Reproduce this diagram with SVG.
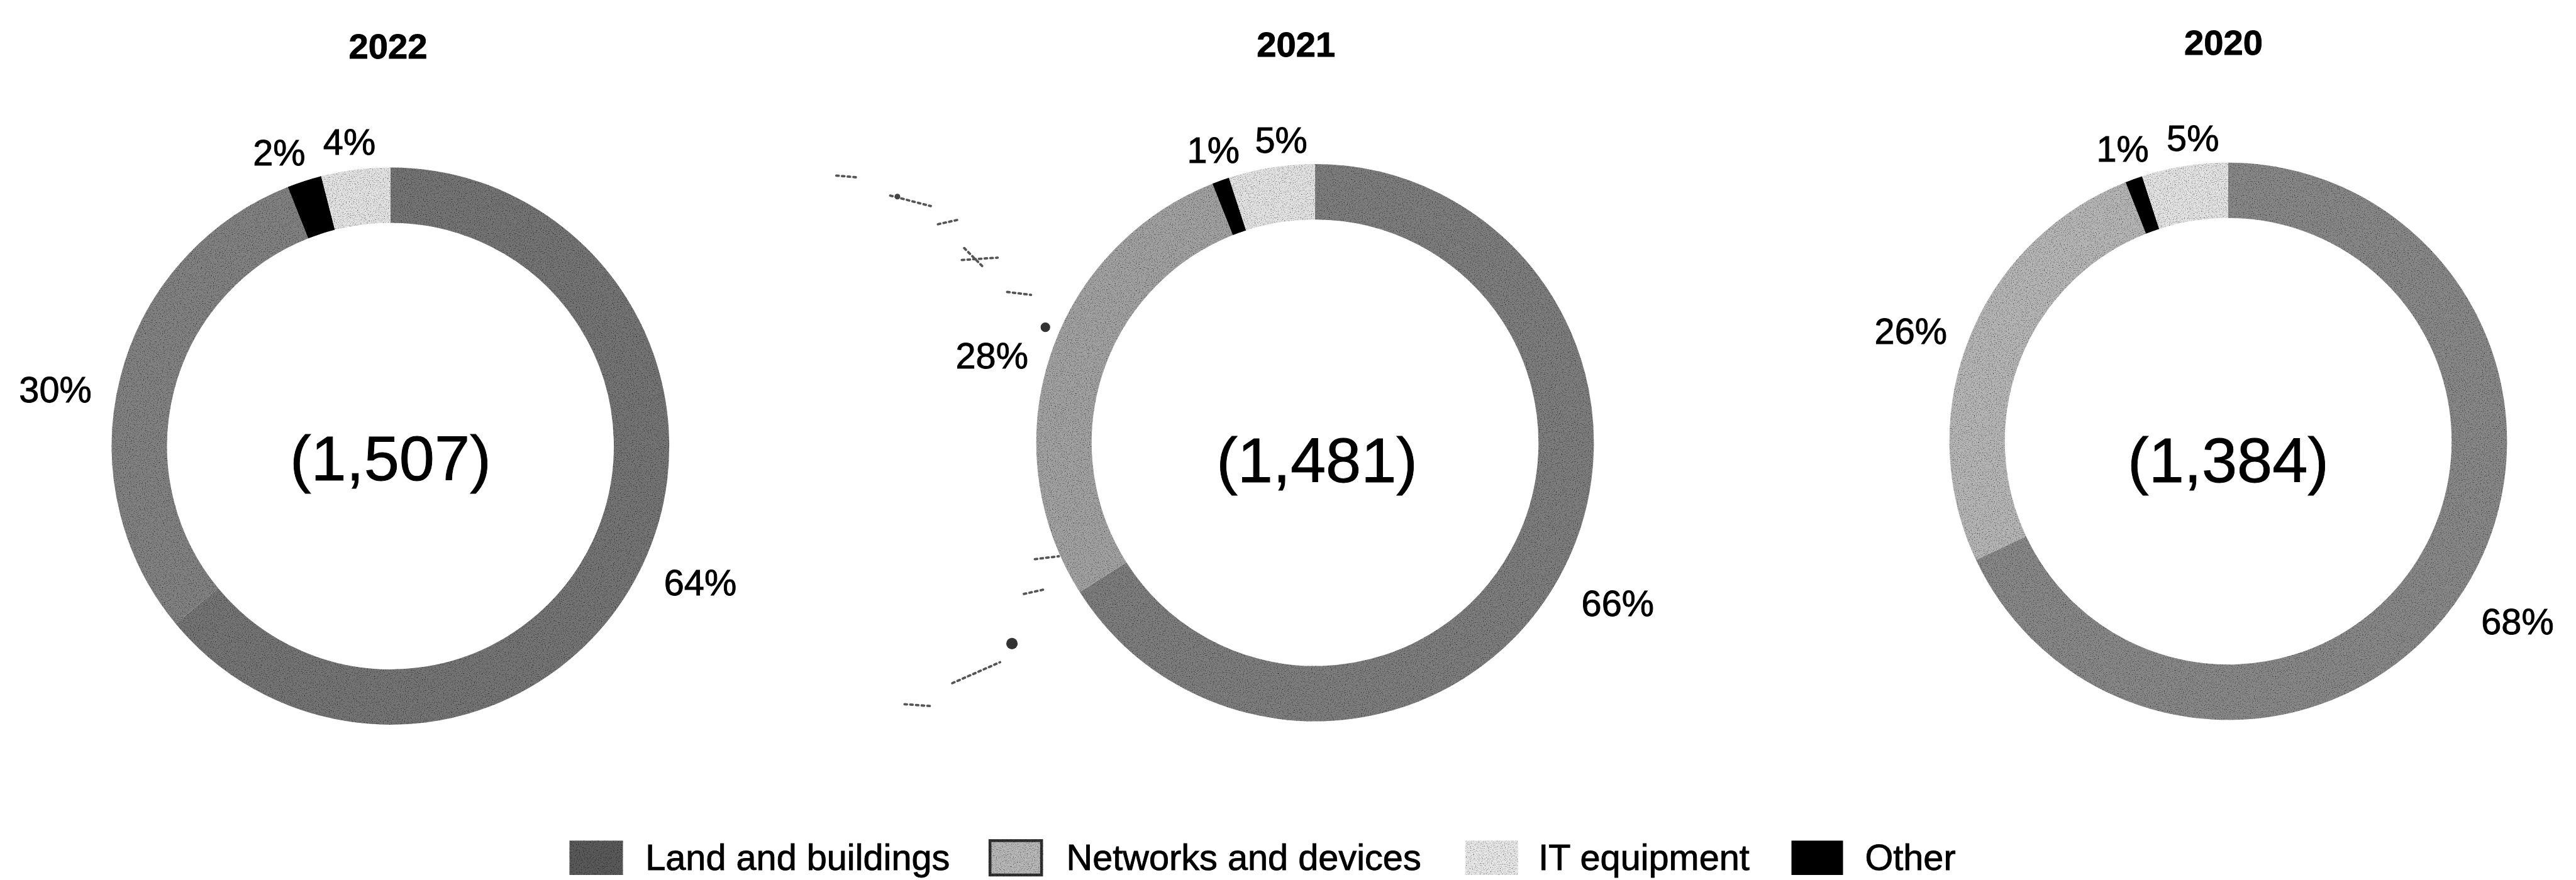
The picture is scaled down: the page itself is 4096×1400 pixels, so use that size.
<svg xmlns="http://www.w3.org/2000/svg" width="4096" height="1400" viewBox="0 0 4096 1400">
<style>
text{font-family:"Liberation Sans",Arial,sans-serif;fill:#000;stroke:#000;stroke-width:1.2}
.yr{font-size:74px;font-weight:bold;text-anchor:middle}
.tot{font-size:133px;text-anchor:middle}
.pct{font-size:76px}
.leg{font-size:76px}
.seg{fill:none;stroke-width:116}
.land{stroke:#7e7e7e}
.net{stroke:#aaa}
.it{stroke:#e4e4e4}
.oth{stroke:#000}
.spk{fill:none;stroke:#555;stroke-width:5;stroke-dasharray:5 7;stroke-linecap:round}
</style>
<defs>
<filter id="grain" filterUnits="userSpaceOnUse" x="0" y="0" width="5400" height="1850">
<feTurbulence type="fractalNoise" baseFrequency="0.45" numOctaves="2" seed="7" result="n"/>
<feColorMatrix in="n" type="matrix" values="0 0 0 0 0  0 0 0 0 0  0 0 0 0 0  0 0 0 -2.4 1.2" result="dots"/>
<feComposite in="dots" in2="SourceGraphic" operator="in" result="d2"/>
<feMerge><feMergeNode in="SourceGraphic"/><feMergeNode in="d2"/></feMerge>
</filter>
</defs>
<rect width="4096" height="1400" fill="#fff"/>
<g transform="scale(0.759)">
<g id="chart-2022">
<text class="yr" x="813" y="123">2022</text>
<g filter="url(#grain)">
<path class="seg land" style="stroke:#747474" d="M818 409A526 526 0 1 1 412.7 1270.3"/>
<path class="seg net" style="stroke:#828282" d="M412.7 1270.3A526 526 0 0 1 624.4 445.9"/>
<path class="seg oth" d="M624.4 445.9A526 526 0 0 1 687.2 425.5"/>
<path class="seg it" d="M687.2 425.5A526 526 0 0 1 818 409"/>
</g>
<text class="tot" x="818" y="1007">(1,507)</text>
<text class="pct" x="530" y="347">2%</text>
<text class="pct" x="677" y="324">4%</text>
<text class="pct" x="40" y="843">30%</text>
<text class="pct" x="1391" y="1248">64%</text>
</g>
<g id="chart-2021">
<text class="yr" x="2715" y="118">2021</text>
<g filter="url(#grain)">
<path class="seg land" d="M2755 402A526 526 0 1 1 2310.9 1209.8"/>
<path class="seg net" style="stroke:#a2a2a2" d="M2310.9 1209.8A526 526 0 0 1 2561.4 438.9"/>
<path class="seg oth" d="M2561.4 438.9A526 526 0 0 1 2592.5 427.7"/>
<path class="seg it" d="M2592.5 427.7A526 526 0 0 1 2755 402"/>
</g>
<text class="tot" x="2759" y="1011">(1,481)</text>
<text class="pct" x="2487" y="341">1%</text>
<text class="pct" x="2629" y="320">5%</text>
<text class="pct" x="2002" y="772">28%</text>
<text class="pct" x="3313" y="1291">66%</text>
</g>
<g id="chart-2020">
<text class="yr" x="4658" y="114">2020</text>
<g filter="url(#grain)">
<path class="seg land" style="stroke:#888" d="M4668 399A526 526 0 1 1 4192.1 1149"/>
<path class="seg net" style="stroke:#b6b6b6" d="M4192.1 1149A526 526 0 0 1 4474.4 435.9"/>
<path class="seg oth" d="M4474.4 435.9A526 526 0 0 1 4505.5 424.7"/>
<path class="seg it" d="M4505.5 424.7A526 526 0 0 1 4668 399"/>
</g>
<text class="tot" x="4668" y="1011">(1,384)</text>
<text class="pct" x="4392" y="339">1%</text>
<text class="pct" x="4539" y="316">5%</text>
<text class="pct" x="3927" y="721">26%</text>
<text class="pct" x="5198" y="1330">68%</text>
</g>
<g id="scan-specks" class="spk">
<path d="M1752 368L1798 372M1865 410L1950 432M1965 470L2010 460M2020 520L2060 560M2015 545L2090 540M2110 612L2160 618M2168 1172L2218 1166M2145 1245L2190 1235M1995 1432L2095 1388M1895 1476L1950 1480"/>
<circle cx="1880" cy="412" r="6" fill="#444" stroke="none"/>
<circle cx="2190" cy="686" r="10" fill="#333" stroke="none"/>
<circle cx="2120" cy="1349" r="12" fill="#333" stroke="none"/>
</g>
<g id="legend">
<g id="leg-land"><rect x="1193" y="1762" width="112" height="72" fill="#5a5a5a" filter="url(#grain)"/><text class="leg" x="1352" y="1824">Land and buildings</text></g>
<g id="leg-net"><rect x="2074" y="1762" width="108" height="72" fill="#b8b8b8" stroke="#333" stroke-width="6" filter="url(#grain)"/><text class="leg" x="2234" y="1824">Networks and devices</text></g>
<g id="leg-it"><rect x="3070" y="1762" width="110" height="72" fill="#e8e8e8" filter="url(#grain)"/><text class="leg" x="3223" y="1824">IT equipment</text></g>
<g id="leg-other"><rect x="3753" y="1762" width="108" height="72" fill="#000"/><text class="leg" x="3907" y="1824">Other</text></g>
</g>
<g id="connectors"/>
</g>
</svg>
